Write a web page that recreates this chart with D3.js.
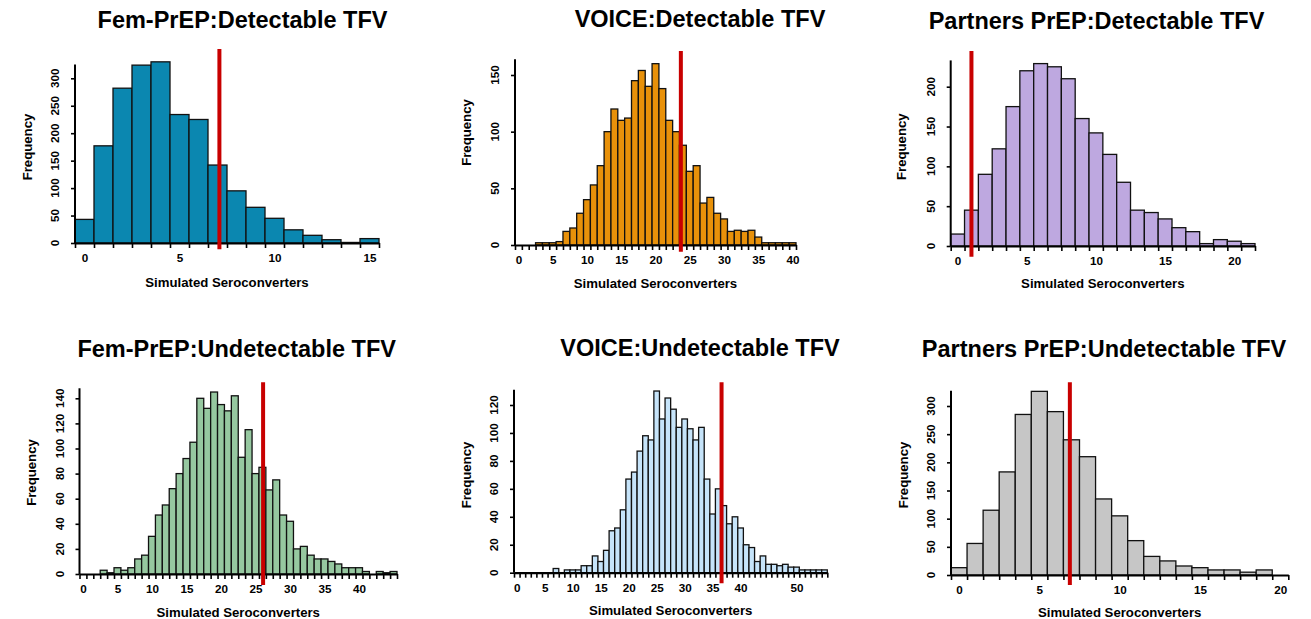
<!DOCTYPE html>
<html>
<head>
<meta charset="utf-8">
<script src="https://cdn.jsdelivr.net/npm/d3@7"></script>
<style>
  body { margin: 0; background: #fff; }
  text { font-family: "Liberation Sans", Arial, Helvetica, sans-serif; font-weight: bold; fill: #000; }
</style>
</head>
<body>
<svg id="chart" width="1311" height="619"></svg>
<script>
// ---------------- DATA ----------------
const panelTitles = [
  "Fem-PrEP:Detectable TFV",
  "VOICE:Detectable TFV",
  "Partners PrEP:Detectable TFV",
  "Fem-PrEP:Undetectable TFV",
  "VOICE:Undetectable TFV",
  "Partners PrEP:Undetectable TFV"
];
const xAxisTitle = "Simulated Seroconverters";
const yAxisTitle = "Frequency";

// frequencies for seroconverter counts 0,1,2,...
const femDetCounts = [43,177,282,324,330,234,225,142,95,65,45,24,14,6,1,8];
const voiceDetCounts = [0,0,0,2,2,2,3,12,15,28,40,53,70,100,120,110,112,145,154,140,160,138,110,100,88,65,70,37,42,28,23,12,13,12,13,7,2,2,2,2,2];
const partDetCounts = [15,45,90,122,175,220,229,225,210,160,142,115,80,45,42,34,23,18,3,8,6,3];
const femUndCounts = [0,0,0,3,1,5,3,5,12,15,30,47,55,68,80,92,105,140,132,145,135,130,142,93,115,80,85,67,75,47,42,20,22,15,12,12,10,8,5,5,5,2,0,2,1,2];
const voiceUndCounts = [0,0,0,0,0,0,0,3,0,2,2,2,5,5,12,8,16,30,32,45,67,72,87,98,95,130,110,125,117,104,110,103,95,104,67,42,60,48,35,40,32,20,18,8,12,6,6,5,6,4,4,2,2,2,2,2];
const partUndCounts = [13,56,115,183,285,326,290,240,210,135,105,61,33,25,16,13,9,9,5,9];

// observed values (red lines)
const observedValues = [7.1, 23.7, 1.0, 26.1, 36.6, 6.9];

// tick labels
const xTickLabels = [
  [0,5,10,15],
  [0,5,10,15,20,25,30,35,40],
  [0,5,10,15,20],
  [0,5,10,15,20,25,30,35,40],
  [0,5,10,15,20,25,30,35,40,50],
  [0,5,10,15,20]
];
const yTickLabels = [
  [0,50,100,150,200,250,300],
  [0,50,100,150],
  [0,50,100,150,200],
  [0,20,40,60,80,100,120,140],
  [0,20,40,60,80,100,120],
  [0,50,100,150,200,250,300]
];
const xAxisMax = [15.5, 40.5, 21.5, 45.5, 55.5, 20.5];
const yAxisLimit = [325, 164, 233, 148, 131, 327];

const fillColors = ["#0b87b0", "#e8910a", "#bea8e0", "#96c8a0", "#c6e4fa", "#c6c6c6"];
const allCounts = [femDetCounts, voiceDetCounts, partDetCounts, femUndCounts, voiceUndCounts, partUndCounts];

// ---------------- LAYOUT (pixels) ----------------
const layout = [
  {xr:[75,379],     base:243,   yRefV:300, yRefPx:78.3,  pTop:49,    pBot:249.3, title:[242.5,27.7], freq:[27,147],     xlabY:287.3},
  {xr:[515,796],    base:245,   yRefV:150, yRefPx:75,    pTop:51,    pBot:251.7, title:[700,27.3],   freq:[466,132.5],  xlabY:288.3},
  {xr:[950.7,1255], base:246,   yRefV:200, yRefPx:86.7,  pTop:51,    pBot:256.7, title:[1096.5,29],  freq:[901.7,146.7],xlabY:288.3},
  {xr:[79.5,397],   base:574,   yRefV:140, yRefPx:398.3, pTop:382.3, pBot:585,   title:[236.7,356.7],freq:[31.7,472.5], xlabY:616.7},
  {xr:[514,827.3],  base:572.7, yRefV:120, yRefPx:405,   pTop:382.3, pBot:583.3, title:[700,356],    freq:[466.7,475],  xlabY:615},
  {xr:[951,1288.3], base:575,   yRefV:300, yRefPx:406,   pTop:382.3, pBot:585,   title:[1104,357.3], freq:[903.3,475],  xlabY:616.7}
];

const svg = d3.select("#chart");

allCounts.forEach((counts, p) => {
  const L = layout[p];
  const g = svg.append("g");
  const x = d3.scaleLinear().domain([-0.5, xAxisMax[p]]).range(L.xr);
  const y = d3.scaleLinear().domain([0, L.yRefV]).range([L.base, L.yRefPx]);

  const bins = counts.map((c, i) => ({x0: i - 0.5, x1: i + 0.5, c}));

  // bars
  g.selectAll("rect.bar").data(bins).join("rect")
    .attr("class", "bar")
    .attr("x", d => x(d.x0))
    .attr("width", d => x(d.x1) - x(d.x0))
    .attr("y", d => y(d.c))
    .attr("height", d => y(0) - y(d.c))
    .attr("fill", fillColors[p])
    .attr("stroke", "#111")
    .attr("stroke-width", 1.3);

  // x axis: ticks at bin edges
  const edges = d3.range(-0.5, xAxisMax[p] + 0.001, 1);
  const xAxisTicks = d3.axisBottom(x).tickValues(edges).tickFormat("").tickSize(5).tickSizeOuter(0);
  const ax = g.append("g").attr("transform", `translate(0,${L.base})`).call(xAxisTicks);
  ax.select(".domain").attr("stroke", "#000").attr("stroke-width", 2.2);
  ax.selectAll(".tick line").attr("stroke", "#000").attr("stroke-width", 1.6);

  // x labels
  const xLab = d3.axisBottom(x).tickValues(xTickLabels[p]).tickFormat(d3.format("d")).tickSize(0).tickPadding(11);
  const axl = g.append("g").attr("transform", `translate(0,${L.base})`).call(xLab);
  axl.select(".domain").remove();
  axl.selectAll("text").style("font-size", "11.7px").attr("fill", "#000")
     .attr("font-family", "Liberation Sans, Arial, sans-serif").attr("font-weight", "bold");

  // y axis line
  g.append("line")
    .attr("x1", L.xr[0]).attr("x2", L.xr[0])
    .attr("y1", y(0)).attr("y2", y(yAxisLimit[p]))
    .attr("stroke", "#000").attr("stroke-width", 2);
  const yAx = d3.axisLeft(y).tickValues(yTickLabels[p]).tickFormat("").tickSize(4).tickSizeOuter(0);
  const ay = g.append("g").attr("transform", `translate(${L.xr[0]},0)`).call(yAx);
  ay.select(".domain").remove();
  ay.selectAll(".tick line").attr("stroke", "#000").attr("stroke-width", 1.6);

  // y tick labels (rotated)
  g.selectAll("text.ylab").data(yTickLabels[p]).join("text")
    .attr("class", "ylab")
    .attr("transform", d => `translate(${L.xr[0] - 16},${y(d)}) rotate(-90)`)
    .attr("text-anchor", "middle")
    .style("font-size", "11.7px")
    .text(d => d);

  // observed value line
  g.append("line")
    .attr("x1", x(observedValues[p])).attr("x2", x(observedValues[p]))
    .attr("y1", L.pTop).attr("y2", L.pBot)
    .attr("stroke", "#c80000").attr("stroke-width", 4);

  // titles
  g.append("text").attr("x", L.title[0]).attr("y", L.title[1])
    .attr("text-anchor", "middle").style("font-size", "23.5px").text(panelTitles[p]);
  g.append("text").attr("x", (L.xr[0] + L.xr[1]) / 2).attr("y", L.xlabY)
    .attr("text-anchor", "middle").style("font-size", "13.2px").text(xAxisTitle);
  g.append("text")
    .attr("transform", `translate(${L.freq[0] + 4.7},${L.freq[1]}) rotate(-90)`)
    .attr("text-anchor", "middle").style("font-size", "13.2px").text(yAxisTitle);
});
</script>
</body>
</html>
